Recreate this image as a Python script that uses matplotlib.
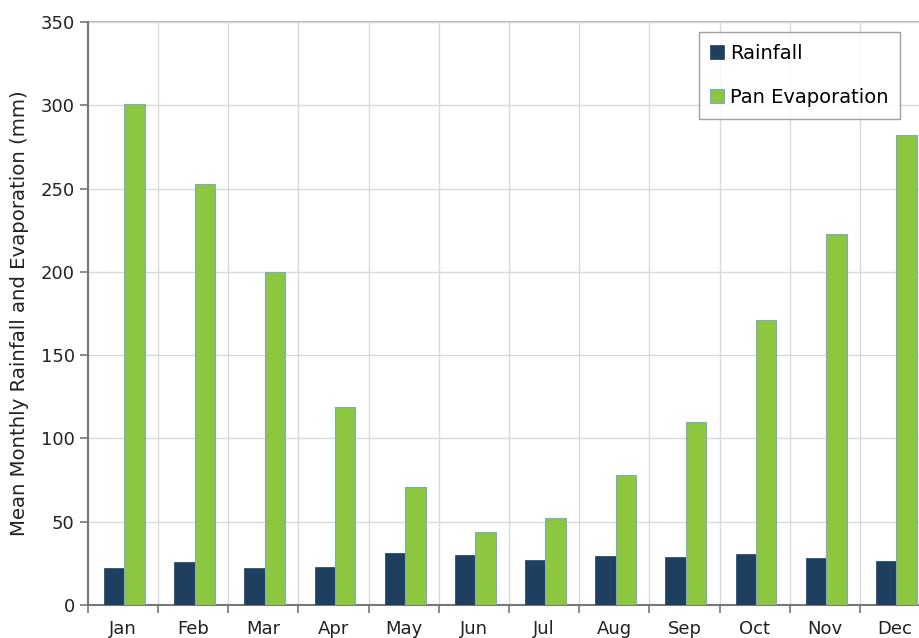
import matplotlib
matplotlib.use("Agg")
import matplotlib.pyplot as plt
import numpy as np
from matplotlib.ticker import FixedLocator, NullFormatter

months = ["Jan", "Feb", "Mar", "Apr", "May", "Jun", "Jul", "Aug", "Sep", "Oct", "Nov", "Dec"]
rainfall = [22, 26, 22, 23, 31, 30, 27, 29.5, 29, 30.5, 28, 26.5]
evaporation = [301, 253, 200, 119, 71, 44, 52, 78, 110, 171, 223, 282]

plt.rcParams['font.family'] = ['DejaVu Sans']
fig = plt.figure(figsize=(9.19, 6.38), dpi=100)
ax = fig.add_axes([88/919, 33/638, 842/919, 583/638])

x = np.arange(len(months))
w = 0.29
ax.bar(x - w/2 + 0.02, rainfall, w, color="#1F3F60", label="Rainfall", zorder=3,
       edgecolor="#1F3F60", linewidth=0.5)
ax.bar(x + w/2 + 0.02, evaporation, w, color="#8DC63F", label="Pan Evaporation", zorder=3,
       edgecolor="#7FA9C9", linewidth=0.8)

ax.set_xlim(-0.5, 11.5)
ax.set_ylim(0, 350)
ax.set_yticks(np.arange(0, 351, 50))
ax.set_xticks(x)
ax.set_xticklabels(months, fontsize=13, color="#222222")
ax.tick_params(axis='x', which='major', length=0, pad=11)
ax.xaxis.set_minor_locator(FixedLocator(np.arange(-0.5, 12, 1)))
ax.xaxis.set_minor_formatter(NullFormatter())
ax.tick_params(axis='x', which='minor', length=6, color="#777777", width=1.2)
ax.tick_params(axis='y', length=6, color="#777777", width=1.2, labelsize=13, labelcolor="#222222")

ax.grid(True, axis='y', color="#D9D9D9", linewidth=1, zorder=0)
ax.grid(True, axis='x', which='minor', color="#D9D9D9", linewidth=1, zorder=0)
ax.grid(False, axis='x', which='major')

for s in ['top', 'right']:
    ax.spines[s].set_visible(False)
ax.axhline(350, color="#BBBBBB", linewidth=1.5, zorder=1, clip_on=False)
ax.spines['left'].set_color("#777777")
ax.spines['left'].set_linewidth(1.5)
ax.spines['bottom'].set_color("#777777")
ax.spines['bottom'].set_linewidth(1.5)

ax.set_ylabel("Mean Monthly Rainfall and Evaporation (mm)", fontsize=14.2, color="#222222", labelpad=8)

leg = ax.legend(loc='upper right', bbox_to_anchor=((900-88)/842, (605-32)/583),
                fontsize=14, frameon=True, fancybox=False, edgecolor="#888888",
                handlelength=0.7, handleheight=0.7, handletextpad=0.3,
                labelspacing=1.3, borderpad=0.6, borderaxespad=0)
leg.get_frame().set_linewidth(1.0)

fig.savefig("out.png", dpi=100)
